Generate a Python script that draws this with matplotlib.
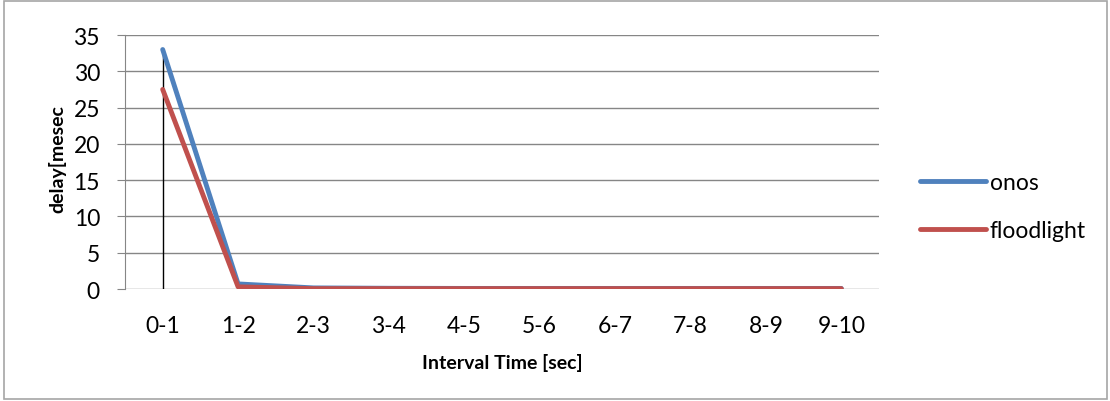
import numpy as np
import matplotlib.pyplot as plt
from matplotlib.patches import Rectangle

# data
intervals = ["0-1", "1-2", "2-3", "3-4", "4-5", "5-6", "6-7", "7-8", "8-9", "9-10"]
onos = [33.0, 0.7, 0.15, 0.1, 0.08, 0.08, 0.08, 0.08, 0.08, 0.08]
floodlight = [27.5, 0.3, 0.05, 0.05, 0.05, 0.05, 0.05, 0.05, 0.05, 0.05]

plt.rcParams['font.family'] = ['Lato', 'DejaVu Sans']

fig = plt.figure(figsize=(11.1, 4.02), dpi=100)
ax = fig.add_axes([0.1126, 0.2786, 0.6793, 0.6318])

x = np.arange(len(intervals))
grid_col = "#868686"

# drop lines from the highest point to the axis
tops = np.maximum(onos, floodlight)
ax.vlines(x, 0, tops, color="black", linewidth=1.0, zorder=3)

ax.plot(x, onos, color="#4F81BD", linewidth=3.5, solid_capstyle="round",
        solid_joinstyle="round", label="onos", zorder=4)
ax.plot(x, floodlight, color="#C0504D", linewidth=3.5, solid_capstyle="round",
        solid_joinstyle="round", label="floodlight", zorder=5)

ax.set_xlim(-0.5, len(intervals) - 0.5)
ax.set_ylim(0, 35)
ax.set_yticks(range(0, 36, 5))
ax.set_xticks(x)
ax.set_xticklabels(intervals)
ax.yaxis.grid(True, color=grid_col, linewidth=1.0)
ax.set_axisbelow(True)

for s in ["top", "right", "bottom"]:
    ax.spines[s].set_visible(False)
ax.spines["left"].set_color(grid_col)
ax.spines["left"].set_zorder(1)

ax.tick_params(axis="y", length=6, color=grid_col, labelsize=16.5, pad=12)
ax.tick_params(axis="x", length=0, labelsize=16.5, pad=19)

ax.set_xlabel("Interval Time [sec]", fontsize=14, fontweight="bold")
ax.set_ylabel("delay[mesec", fontsize=14, fontweight="bold")
ax.xaxis.label.set_va("center")
ax.yaxis.label.set_va("center")
ax.xaxis.set_label_coords(0.5, -0.287)
ax.yaxis.set_label_coords(-0.09, 0.516)

leg = fig.legend(loc="upper left", bbox_to_anchor=(0.81, 0.622), frameon=False,
                 fontsize=16.5, handlelength=2.9, handletextpad=0.15, labelspacing=1.2)

# outer chart border
fig.patches.append(Rectangle((0.004, 0.004), 0.993, 0.992, transform=fig.transFigure,
                             fill=False, edgecolor="#A6A6A6", linewidth=1.2))

fig.savefig("out.png", dpi=100)
